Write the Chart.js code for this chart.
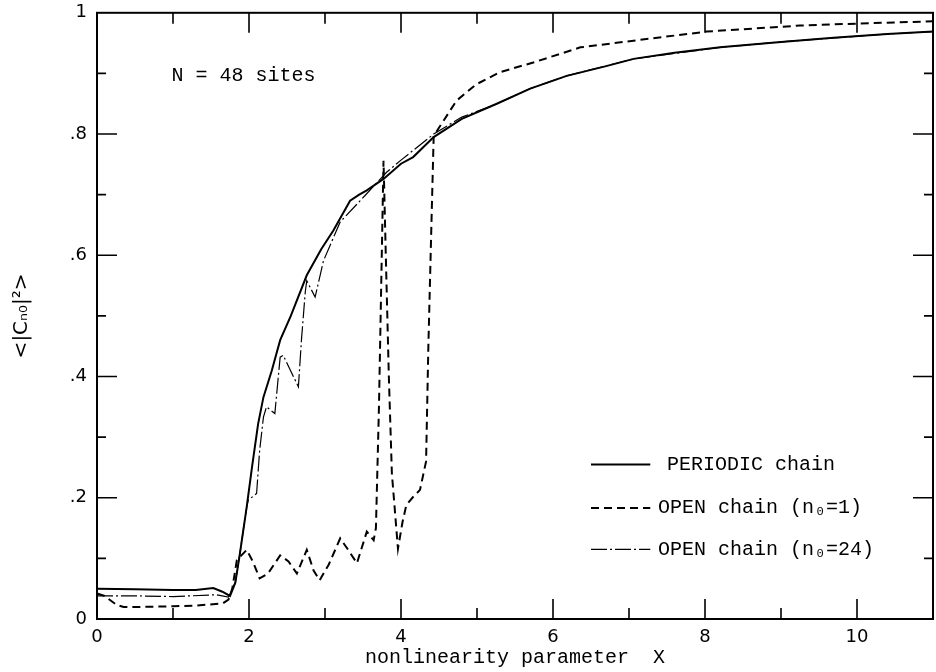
<!DOCTYPE html>
<html>
<head>
<meta charset="utf-8">
<script src="https://cdn.jsdelivr.net/npm/chart.js@4.4.1/dist/chart.umd.min.js"></script>
<style>
    html, body { margin: 0; padding: 0; background: #fff; }
    #wrap { width: 936px; height: 672px; }
</style>
</head>
<body>
<div id="wrap"><canvas id="myChart" width="936" height="672"></canvas></div>
<script>
(function () {
    "use strict";

    // PERIODIC chain (solid)
    var periodicX = [0, 0.5, 1.0, 1.3, 1.53, 1.65, 1.75, 1.82, 1.88, 1.97, 2.04, 2.12, 2.19, 2.3, 2.41, 2.55, 2.76, 2.95, 3.11, 3.33, 3.45, 3.55, 3.77, 4.0, 4.16, 4.43, 4.8, 5.26, 5.7, 6.18, 6.7, 7.06, 7.6, 8.2, 9.0, 9.69, 10.4, 11.0];
    var periodicY = [0.050, 0.049, 0.048, 0.048, 0.051, 0.045, 0.038, 0.06, 0.108, 0.185, 0.251, 0.322, 0.366, 0.41, 0.46, 0.50, 0.567, 0.61, 0.641, 0.690, 0.700, 0.707, 0.726, 0.751, 0.762, 0.795, 0.825, 0.850, 0.875, 0.896, 0.912, 0.924, 0.934, 0.943, 0.952, 0.959, 0.965, 0.969];

    // OPEN chain n0=1 (dashed)
    var open1X = [0, 0.1, 0.26, 0.35, 0.6, 1.0, 1.3, 1.66, 1.73, 1.78, 1.84, 1.97, 2.05, 2.14, 2.25, 2.41, 2.52, 2.63, 2.76, 2.85, 2.93, 3.05, 3.2, 3.3, 3.42, 3.55, 3.64, 3.67, 3.71, 3.77, 3.80, 3.84, 3.88, 3.96, 4.02, 4.07, 4.15, 4.25, 4.33, 4.36, 4.40, 4.43, 4.56, 4.73, 4.99, 5.30, 5.74, 6.36, 7.06, 8.02, 9.25, 10.2, 11.0];
    var open1Y = [0.042, 0.038, 0.023, 0.020, 0.020, 0.021, 0.022, 0.026, 0.032, 0.05, 0.097, 0.114, 0.095, 0.067, 0.075, 0.105, 0.095, 0.075, 0.114, 0.08, 0.064, 0.09, 0.133, 0.115, 0.092, 0.144, 0.13, 0.15, 0.35, 0.756, 0.60, 0.40, 0.24, 0.116, 0.16, 0.188, 0.20, 0.213, 0.26, 0.45, 0.65, 0.797, 0.822, 0.855, 0.882, 0.902, 0.918, 0.943, 0.954, 0.969, 0.979, 0.983, 0.986];

    // OPEN chain n0=24 (dash-dot)
    var open24X = [0, 0.57, 1.0, 1.57, 1.73, 1.82, 1.88, 1.97, 1.99, 2.10, 2.14, 2.19, 2.23, 2.34, 2.41, 2.45, 2.65, 2.69, 2.74, 2.76, 2.87, 2.98, 3.2, 3.53, 3.81, 4.0, 4.43, 4.8, 5.21, 5.7, 6.18, 7.06, 8.2, 9.0, 10.4, 11.0];
    var open24Y = [0.038, 0.038, 0.037, 0.040, 0.036, 0.06, 0.108, 0.185, 0.196, 0.207, 0.278, 0.333, 0.35, 0.339, 0.432, 0.435, 0.383, 0.46, 0.539, 0.558, 0.531, 0.591, 0.655, 0.699, 0.737, 0.757, 0.80, 0.828, 0.847, 0.875, 0.896, 0.924, 0.943, 0.952, 0.965, 0.969];

    var legendLabels = ["PERIODIC chain", "OPEN chain (n\u2080=1)", "OPEN chain (n\u2080=24)"];
    var note = "N = 48 sites";

    function pts(xs, ys) {
        return xs.map(function (x, i) { return { x: x, y: ys[i] }; });
    }

    var textFont = "'Liberation Mono', monospace";
    var numFont = "'DejaVu Sans', sans-serif";

    var styles = [
        { width: 2, dash: [] },
        { width: 2, dash: [8, 5] },
        { width: 1.2, dash: [16, 3, 2, 3] }
    ];

    var framePlugin = {
        id: "frame",
        afterDraw: function (chart) {
            var c = chart.ctx;
            var a = chart.chartArea;
            var xs = chart.scales.x;
            var ys = chart.scales.y;
            var v;
            c.save();
            c.strokeStyle = "#000";
            c.lineWidth = 2;
            c.setLineDash([]);
            c.strokeRect(a.left, a.top, a.right - a.left, a.bottom - a.top);

            c.lineWidth = 1.6;
            c.beginPath();
            for (v = 1; v <= 10; v++) {
                var px = xs.getPixelForValue(v);
                var len = v % 2 === 0 ? 20 : 11;
                c.moveTo(px, a.bottom); c.lineTo(px, a.bottom - len);
                c.moveTo(px, a.top); c.lineTo(px, a.top + len);
            }
            for (v = 1; v <= 9; v++) {
                var py = ys.getPixelForValue(v / 10);
                var l2 = v % 2 === 0 ? 20 : 9;
                c.moveTo(a.left, py); c.lineTo(a.left + l2, py);
                c.moveTo(a.right, py); c.lineTo(a.right - l2, py);
            }
            c.stroke();

            // note
            c.fillStyle = "#000";
            c.font = "20px " + textFont;
            c.textBaseline = "middle";
            c.textAlign = "left";
            c.fillText(note, xs.getPixelForValue(0.98), ys.getPixelForValue(0.897));

            // legend
            var rows = [0.255, 0.183, 0.115];
            for (var i = 0; i < 3; i++) {
                var ly = ys.getPixelForValue(rows[i]);
                c.lineWidth = styles[i].width;
                c.setLineDash(styles[i].dash);
                c.beginPath();
                c.moveTo(xs.getPixelForValue(6.5), ly);
                c.lineTo(xs.getPixelForValue(7.28), ly);
                c.stroke();
                c.setLineDash([]);
                c.fillText(legendLabels[i], xs.getPixelForValue(i === 0 ? 7.5 : 7.38), ly);
            }
            c.restore();
        }
    };

    var ctx = document.getElementById("myChart");
    new Chart(ctx, {
        type: "scatter",
        data: {
            datasets: [
                { label: legendLabels[0], data: pts(periodicX, periodicY) },
                { label: legendLabels[1], data: pts(open1X, open1Y) },
                { label: legendLabels[2], data: pts(open24X, open24Y) }
            ].map(function (d, i) {
                d.showLine = true;
                d.borderColor = "#000";
                d.backgroundColor = "#000";
                d.borderWidth = styles[i].width;
                d.borderDash = styles[i].dash;
                d.pointRadius = 0;
                d.tension = 0;
                return d;
            })
        },
        options: {
            responsive: false,
            animation: false,
            layout: { padding: { left: 0, right: 3, top: 6, bottom: 0 } },
            scales: {
                x: {
                    type: "linear",
                    min: 0,
                    max: 11,
                    afterFit: function (s) { s.height = 53; },
                    ticks: {
                        stepSize: 2,
                        includeBounds: false,
                        color: "#000",
                        padding: 0,
                        font: { family: numFont, size: 18 }
                    },
                    grid: { display: false },
                    border: { display: false },
                    title: {
                        display: true,
                        text: "nonlinearity parameter  X",
                        color: "#000",
                        padding: { top: 0, bottom: 2 },
                        font: { family: textFont, size: 20 }
                    }
                },
                y: {
                    min: 0,
                    max: 1,
                    afterFit: function (s) { s.width = 97; },
                    ticks: {
                        stepSize: 0.2,
                        color: "#000",
                        padding: 2,
                        font: { family: numFont, size: 18 },
                        callback: function (val) {
                            if (val === 0) return "0";
                            if (val === 1) return "1";
                            return "." + Math.round(val * 10);
                        }
                    },
                    grid: { display: false },
                    border: { display: false },
                    title: {
                        display: true,
                        text: "<|C\u2099\u2080|\u00b2>",
                        color: "#000",
                        padding: { top: 10, bottom: 0 },
                        font: { family: numFont, size: 20 }
                    }
                }
            },
            plugins: {
                legend: { display: false },
                tooltip: { enabled: false }
            }
        },
        plugins: [framePlugin]
    });
})();
</script>
</body>
</html>
